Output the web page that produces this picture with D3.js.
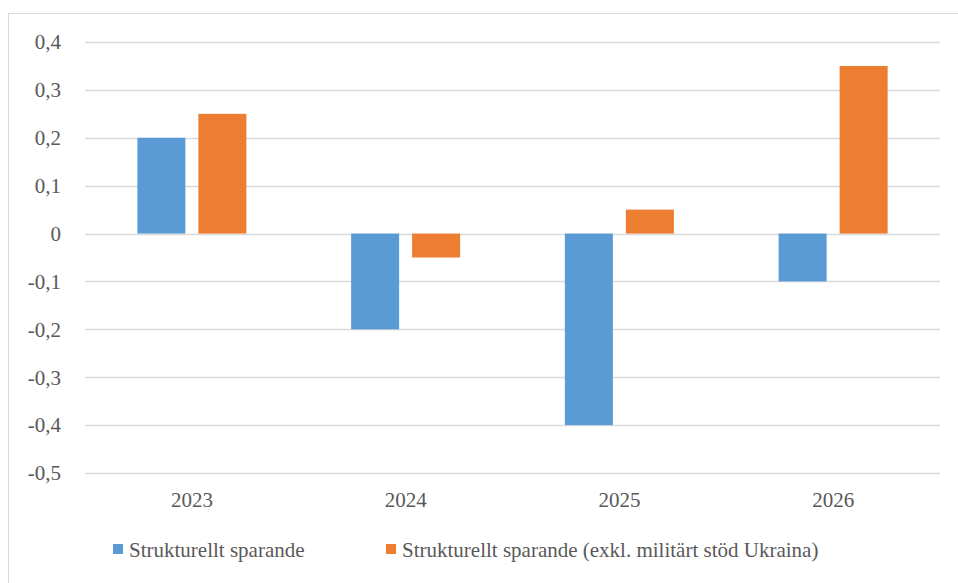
<!DOCTYPE html>
<html>
<head>
<meta charset="utf-8">
<script src="https://cdn.jsdelivr.net/npm/d3@7"></script>
<style>
  body { margin: 0; background: #fff; }
  svg text { font-family: "Liberation Serif", "DejaVu Serif", serif !important; }
</style>
</head>
<body>
<div id="chart"></div>
<script>
const years = ["2023", "2024", "2025", "2026"];
const seriesNames = ["Strukturellt sparande", "Strukturellt sparande (exkl. militärt stöd Ukraina)"];
const sparande = [0.2, -0.2, -0.4, -0.1];
const sparandeExkl = [0.25, -0.05, 0.05, 0.35];
const yTicks = [0.4, 0.3, 0.2, 0.1, 0, -0.1, -0.2, -0.3, -0.4, -0.5];
const colors = ["#5b9bd5", "#ed7d31"];

const width = 958, height = 583;
const margin = { top: 42, right: 18, bottom: 110, left: 85 };

const svg = d3.select("#chart")
    .append("svg")
    .attr("width", width)
    .attr("height", height);

// outer frame
svg.append("rect")
    .attr("x", 8.5).attr("y", 13.5)
    .attr("width", 960).attr("height", 600)
    .attr("fill", "none")
    .attr("stroke", "#d9d9d9");

const xScale = d3.scaleBand()
    .domain(years)
    .range([margin.left, width - margin.right])
    .paddingInner(0.49)
    .paddingOuter(0.245);

const innerScale = d3.scaleBand()
    .domain([0, 1])
    .range([0, xScale.bandwidth()])
    .paddingInner(0.213);

const yScale = d3.scaleLinear()
    .domain([-0.5, 0.4])
    .range([height - margin.bottom, margin.top]);

const fmt = v => (v === 0 ? "0" : d3.format(".1f")(v).replace(".", ",").replace("−", "-"));

// gridlines
svg.append("g")
  .selectAll("line")
  .data(yTicks)
  .join("line")
    .attr("x1", margin.left)
    .attr("x2", width - margin.right)
    .attr("y1", d => Math.round(yScale(d)) + 0.5)
    .attr("y2", d => Math.round(yScale(d)) + 0.5)
    .attr("stroke", "#d9d9d9")
    .attr("stroke-width", 1.3);

// y labels
svg.append("g")
  .selectAll("text")
  .data(yTicks)
  .join("text")
    .attr("x", 61)
    .attr("y", d => yScale(d))
    .attr("dy", "0.35em")
    .attr("text-anchor", "end")
    .attr("font-size", 21)
    .attr("fill", "#595959")
    .text(fmt);

// bars
const allSeries = [sparande, sparandeExkl];
allSeries.forEach((values, si) => {
    svg.append("g")
      .selectAll("rect")
      .data(values)
      .join("rect")
        .attr("x", (d, i) => xScale(years[i]) + innerScale(si))
        .attr("width", innerScale.bandwidth())
        .attr("y", d => yScale(Math.max(0, d)))
        .attr("height", d => Math.abs(yScale(d) - yScale(0)))
        .attr("fill", colors[si]);
});

// x labels
svg.append("g")
  .selectAll("text")
  .data(years)
  .join("text")
    .attr("x", d => xScale(d) + xScale.bandwidth() / 2)
    .attr("y", 507)
    .attr("text-anchor", "middle")
    .attr("font-size", 21)
    .attr("fill", "#595959")
    .text(d => d);

// legend
const legendX = [113, 386];
const legend = svg.append("g");
seriesNames.forEach((name, i) => {
    legend.append("rect")
        .attr("x", legendX[i])
        .attr("y", 544)
        .attr("width", 10)
        .attr("height", 10)
        .attr("fill", colors[i]);
    legend.append("text")
        .attr("x", legendX[i] + 16)
        .attr("y", 557)
        .attr("font-size", 21)
        .attr("fill", "#595959")
        .text(name);
});
</script>
</body>
</html>
